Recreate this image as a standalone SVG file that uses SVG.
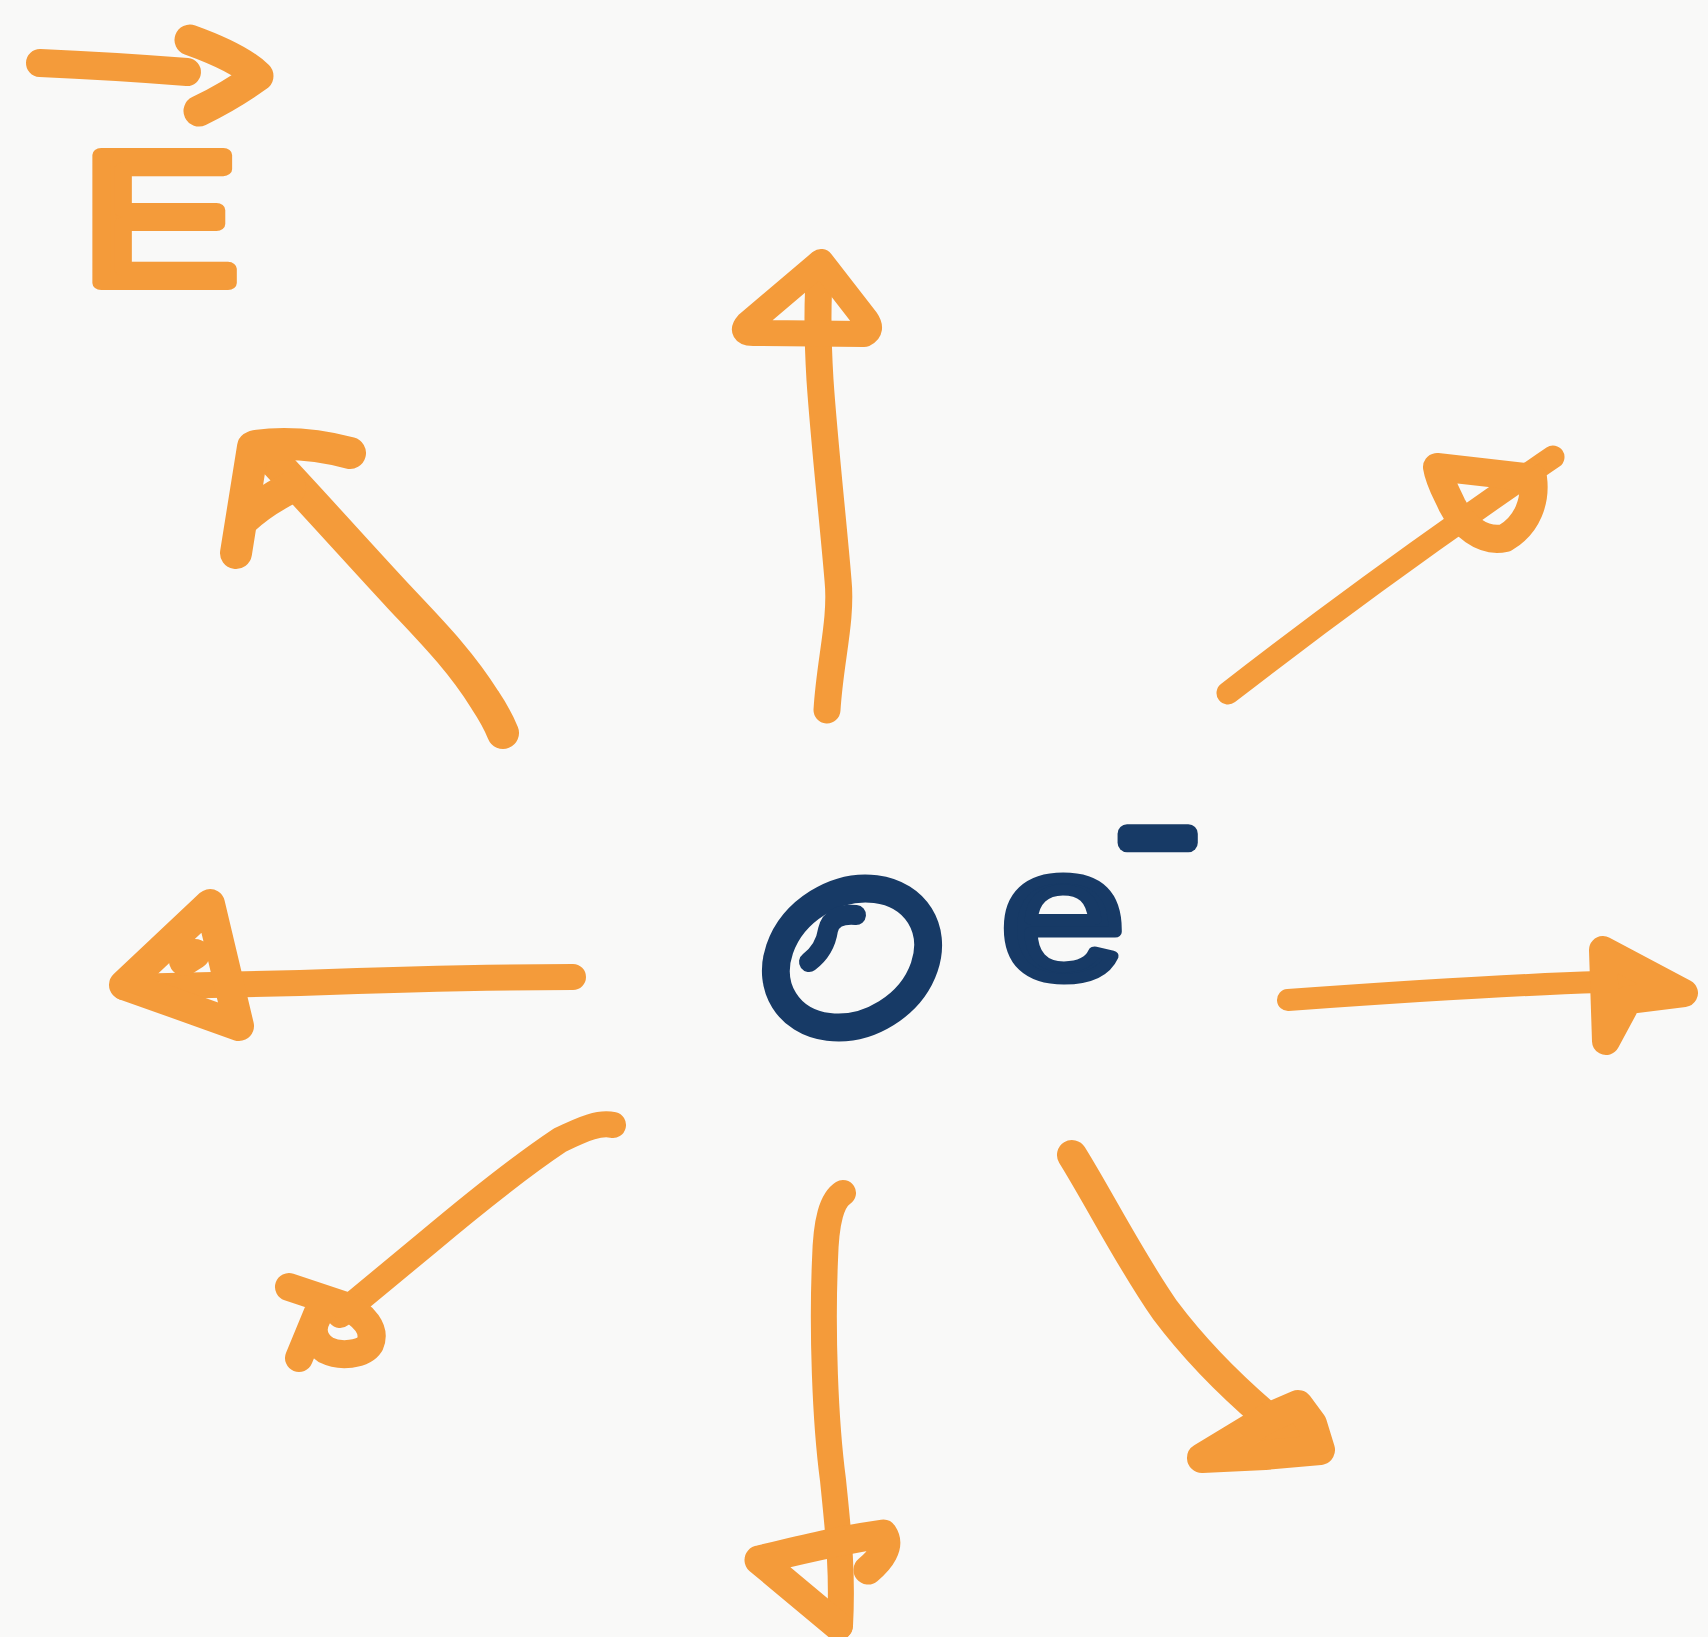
<svg xmlns="http://www.w3.org/2000/svg" width="1708" height="1637" viewBox="0 0 1708 1637">
<style>
.o{fill:none;stroke:#F49B3A;stroke-linecap:round;stroke-linejoin:round}
.of{fill:#F49B3A;stroke:#F49B3A;stroke-linecap:round;stroke-linejoin:round}
.n{fill:none;stroke:#173A66;stroke-linecap:round;stroke-linejoin:round}
.lblE{font-family:"Liberation Sans",Arial,sans-serif;fill:#F49B3A;stroke:#F49B3A;stroke-width:14;stroke-linejoin:round}
.lble{font-family:"Liberation Sans",Arial,sans-serif;fill:#173A66;stroke:#173A66;stroke-linejoin:round}
</style>
<rect x="0" y="0" width="1708" height="1637" fill="#F9F9F8"/>
<g id="field-label">
<path class="o" stroke-width="28" d="M40 63 Q110 66 187 72"/>
<path class="o" stroke-width="31" d="M190 40 Q240 58 258 76 Q230 96 199 111"/>
<text class="lblE" x="82" y="283" font-size="186" textLength="156" lengthAdjust="spacingAndGlyphs">E</text>
</g>
<g id="electron">
<ellipse class="n" cx="852" cy="958" rx="80" ry="65" stroke-width="28" transform="rotate(-32 852 958)"/>
<path class="n" stroke-width="20" d="M856 915 Q832 913 828 930 Q825 950 809 962"/>
<text class="lble" x="1001" y="977" font-size="184" stroke-width="11" textLength="124" lengthAdjust="spacingAndGlyphs">e</text>
<text class="lble" x="1121" y="880" font-size="126" stroke-width="19">−</text>
</g>
<g id="field-lines">
<g id="arrow-n">
<path class="o" stroke-width="27" d="M827 710 C830 660 842 620 838 580 C833 520 824 440 820 380 C817 330 818 290 820 268"/>
<path class="o" stroke-width="26" d="M821 262 L748 324 Q740 333 753 333 L864 334 Q873 330 866 320 Z"/>
</g>
<g id="arrow-ne">
<path class="o" stroke-width="23" d="M1228 693 Q1380 575 1553 457"/>
<path class="o" stroke-width="28" d="M1437 467 L1533 478 C1536 500 1528 525 1505 538 C1482 543 1462 525 1452 505 C1445 490 1439 480 1437 467 Z"/>
</g>
<g id="arrow-e">
<path class="o" stroke-width="22" d="M1288 1000 C1400 992 1500 985 1600 982 L1640 982"/>
<path class="of" stroke-width="28" d="M1603 950 L1684 993 L1628 1000 L1606 1041 Z"/>
</g>
<g id="arrow-se">
<path class="o" stroke-width="30" d="M1072 1155 C1100 1200 1130 1260 1165 1310 C1195 1350 1230 1385 1265 1415"/>
<path class="of" stroke-width="30" d="M1202 1458 L1268 1418 L1298 1405 L1312 1424 L1320 1450 L1265 1455 Z"/>
</g>
<g id="arrow-s">
<path class="o" stroke-width="26" d="M843 1193 C832 1200 826 1220 825 1260 C822 1330 825 1420 833 1480 C838 1530 843 1570 840 1626"/>
<path class="o" stroke-width="29" d="M759 1560 L838 1626 M759 1560 C800 1550 840 1540 883 1534 C891 1546 880 1560 868 1570"/>
</g>
<g id="arrow-sw">
<path class="o" stroke-width="26" d="M613 1125 C600 1122 585 1128 560 1140 C530 1160 490 1190 427 1243 L340 1315"/>
<path class="o" stroke-width="28" d="M289 1287 L343 1305 C365 1315 376 1330 370 1344 C363 1355 340 1357 326 1350 C314 1342 310 1330 317 1318 M318 1312 L299 1358"/>
</g>
<g id="arrow-w">
<path class="o" stroke-width="26" d="M573 977 C480 977 380 980 300 983 L124 987"/>
<path class="o" stroke-width="30" d="M210 904 L124 985 L239 1026 Z M184 961 L195 954"/>
</g>
<g id="arrow-nw">
<path class="o" stroke-width="32" d="M503 733 Q497 718 485 700 C460 660 430 630 400 598 C360 555 320 510 262 448"/>
<path class="o" stroke-width="32" d="M253 447 L236 553 M255 446 Q300 440 350 453 M243 520 Q262 502 290 488"/>
</g>
</g>
</svg>
